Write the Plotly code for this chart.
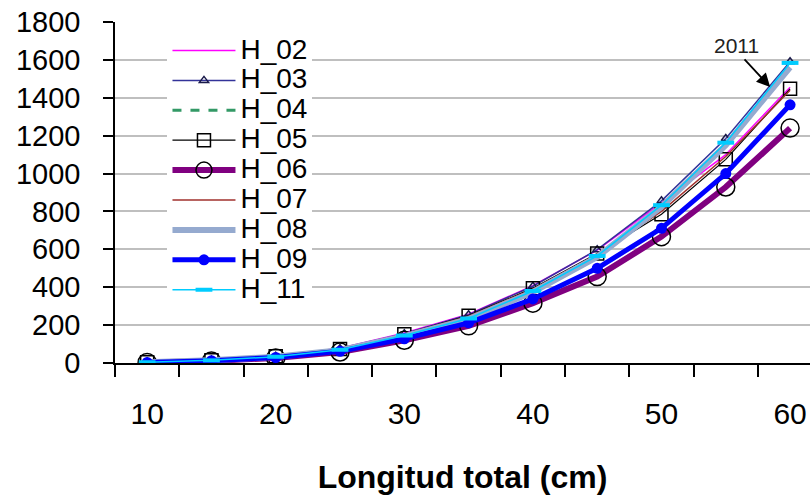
import plotly.graph_objects as go

longitud = [10, 15, 20, 25, 30, 35, 40, 45, 50, 55, 60]

H_02 = [5, 16, 37, 78, 158, 258, 408, 596, 845, 1100, 1456]
H_03 = [5, 16, 36, 76, 155, 255, 405, 598, 856, 1185, 1590]
H_04 = [4, 14, 32, 67, 140, 230, 372, 555, 820, 1145, 1555]
H_05 = [4, 15, 35, 74, 152, 250, 395, 578, 785, 1075, 1447]
H_06 = [3, 11, 27, 58, 120, 196, 316, 456, 667, 929, 1240]
H_07 = [4, 15, 35, 73, 150, 247, 390, 572, 800, 1090, 1440]
H_08 = [4, 14, 33, 68, 142, 232, 375, 560, 825, 1150, 1561]
H_09 = [3, 12, 29, 62, 128, 212, 338, 500, 711, 1000, 1363]
H_11 = [4, 14, 33, 70, 145, 235, 380, 565, 833, 1163, 1584]

y_ticks = [0, 200, 400, 600, 800, 1000, 1200, 1400, 1600, 1800]
x_ticks = [10, 20, 30, 40, 50, 60]

FONT = "Liberation Sans, Arial, sans-serif"

def nm(s):
    return '<span style="font-size:28px">%s</span>' % s

series = [
    ("H_02", H_02, dict(color="#FF00FF", width=1.5), None),
    ("H_03", H_03, dict(color="#333399", width=1.5),
     dict(symbol="triangle-up-open", size=8, color="#1a1a4a", line=dict(width=1.5, color="#1a1a4a"))),
    ("H_04", H_04, dict(color="#339966", width=3, dash="dash"), None),
    ("H_05", H_05, dict(color="#000000", width=1.2),
     dict(symbol="square-open", size=13, color="#000000", line=dict(width=1.5, color="#000000"))),
    ("H_06", H_06, dict(color="#800080", width=6),
     dict(symbol="circle-open", size=18, color="#000000", line=dict(width=1.5, color="#222222"))),
    ("H_07", H_07, dict(color="#A0302C", width=1.5), None),
    ("H_08", H_08, dict(color="#95AACF", width=6), None),
    ("H_09", H_09, dict(color="#0000FF", width=5),
     dict(symbol="circle", size=11, color="#0000FF")),
    ("H_11", H_11, dict(color="#00CCFF", width=1.5),
     dict(symbol="line-ew", size=12, color="#00CCFF", line=dict(width=4, color="#00CCFF"))),
]

fig = go.Figure()
for name, vals, line, marker in series:
    kw = dict(x=longitud, y=vals, name=nm(name), line=line)
    if marker is None:
        kw["mode"] = "lines"
    else:
        kw["mode"] = "lines+markers"
        kw["marker"] = marker
    fig.add_trace(go.Scatter(**kw))

fig.update_layout(
    width=810, height=500,
    margin=dict(l=115, r=0, t=22, b=137, autoexpand=False),
    paper_bgcolor="white", plot_bgcolor="white",
    font=dict(family=FONT, color="black"),
    showlegend=True,
    legend=dict(
        x=0.0755, y=0.975, xanchor="left", yanchor="top",
        bgcolor="white", borderwidth=0,
        font=dict(size=20.7, family=FONT, color="black"),
        itemwidth=63, tracegroupgap=0,
    ),
    annotations=[
        dict(x=55.86, y=1677, xref="x", yref="y", text="2011", showarrow=False,
             font=dict(size=21, family=FONT, color="#222222")),
        dict(x=58.45, y=1457, xref="x", yref="y", text="", showarrow=True,
             ax=-27, ay=-29, arrowhead=2, arrowsize=1.5, arrowwidth=1.8, arrowcolor="black"),
    ],
)

fig.update_xaxes(
    automargin=False,
    range=[7.5, 61.55], tickmode="array", tickvals=x_ticks,
    ticks="", showgrid=False, zeroline=False,
    showline=True, linecolor="black", linewidth=1.5,
    tickfont=dict(size=30, family=FONT, color="black"),
    ticklabelstandoff=23,
    minor=dict(tick0=7.5, dtick=5, ticks="outside", ticklen=12, tickcolor="black", tickwidth=1.5, showgrid=False),
    title=dict(text="<b>Longitud total (cm)</b>", font=dict(size=32, family=FONT, color="black"), standoff=37),
)
fig.update_yaxes(
    automargin=False,
    range=[0, 1800], tickmode="array", tickvals=y_ticks,
    ticks="outside", ticklen=10, tickcolor="black", tickwidth=1.5,
    showline=True, linecolor="black", linewidth=1.5,
    showgrid=True, gridcolor="#BFBFBF", gridwidth=1.5, zeroline=False,
    tickfont=dict(size=29, family=FONT, color="black"),
    ticklabelstandoff=17,
)

fig.write_html(
    "out.html",
    config={"displayModeBar": False},
    post_script="document.body.style.margin='0px';document.body.style.padding='0px';",
)
